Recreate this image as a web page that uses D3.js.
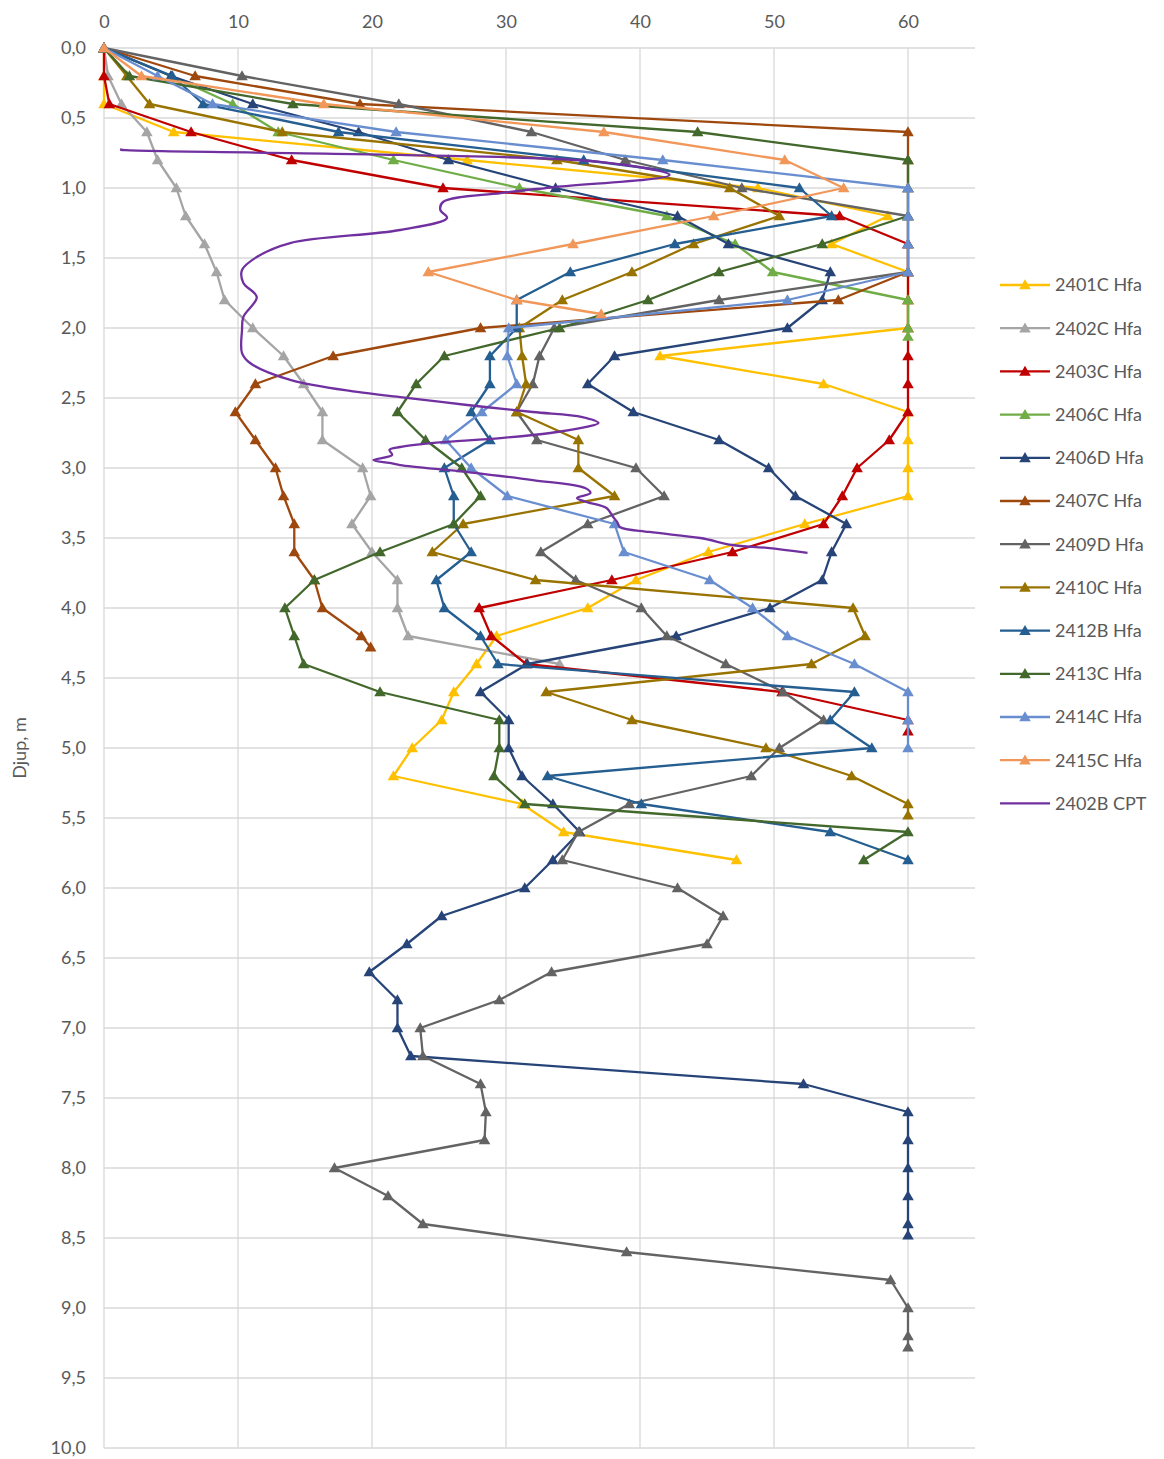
<!DOCTYPE html>
<html>
<head>
<meta charset="utf-8">
<script src="https://cdn.jsdelivr.net/npm/d3@7"></script>
<style>
  body { margin: 0; background: #fff; }
  text { font-family: Lato, "Open Sans", sans-serif; fill: #595959; }
</style>
</head>
<body>
<svg id="chart"></svg>
<script>
// axis ticks
const xTicks = [0, 10, 20, 30, 40, 50, 60];
const yTicks = d3.range(0, 10.001, 0.5);

// series data: [depth m, value]
const hfa2401C = [[0,0],[0.2,0],[0.4,0],[0.6,5.2],[0.8,27.1],[1.0,48.8],[1.2,58.5],[1.4,54.3],[1.6,60],[1.8,60],[2.0,60],[2.2,41.5],[2.4,53.7],[2.6,60],[2.8,60],[3.0,60],[3.2,60],[3.4,52.3],[3.6,45.1],[3.8,39.7],[4.0,36.1],[4.2,29.3],[4.4,27.8],[4.6,26.1],[4.8,25.2],[5.0,23.0],[5.2,21.6],[5.4,31.2],[5.6,34.3],[5.8,47.2]];
const hfa2402C = [[0,0],[0.2,0.3],[0.4,1.3],[0.6,3.2],[0.8,4.0],[1.0,5.4],[1.2,6.1],[1.4,7.5],[1.6,8.4],[1.8,9.0],[2.0,11.1],[2.2,13.4],[2.4,14.9],[2.6,16.3],[2.8,16.3],[3.0,19.3],[3.2,19.9],[3.4,18.5],[3.6,20.0],[3.8,21.9],[4.0,21.9],[4.2,22.7],[4.4,34.0]];
const hfa2403C = [[0,0],[0.2,0],[0.4,0.4],[0.6,6.5],[0.8,14.0],[1.0,25.3],[1.2,54.9],[1.4,60],[1.6,60],[1.8,60],[2.0,60],[2.2,60],[2.4,60],[2.6,60],[2.8,58.6],[3.0,56.2],[3.2,55.1],[3.4,53.7],[3.6,46.9],[3.8,37.9],[4.0,28.0],[4.2,28.9],[4.4,31.5],[4.6,50.6],[4.8,60],[4.88,60]];
const hfa2406C = [[0,0],[0.2,5.0],[0.4,9.6],[0.6,13.0],[0.8,21.6],[1.0,31.0],[1.2,42.0],[1.4,47.1],[1.6,49.9],[1.8,60],[2.0,60],[2.06,60]];
const hfa2406D = [[0,0],[0.2,5.0],[0.4,11.1],[0.6,19.0],[0.8,25.7],[1.0,33.7],[1.2,42.8],[1.4,46.6],[1.6,54.2],[1.8,53.6],[2.0,51.0],[2.2,38.1],[2.4,36.1],[2.6,39.5],[2.8,45.9],[3.0,49.6],[3.2,51.6],[3.4,55.4],[3.6,54.3],[3.8,53.6],[4.0,49.7],[4.2,42.7],[4.4,31.6],[4.6,28.1],[4.8,30.2],[5.0,30.2],[5.2,31.2],[5.4,33.5],[5.6,35.5],[5.8,33.5],[6.0,31.4],[6.2,25.2],[6.4,22.6],[6.6,19.8],[6.8,21.9],[7.0,21.9],[7.2,22.9],[7.4,52.2],[7.6,60],[7.8,60],[8.0,60],[8.2,60],[8.4,60],[8.48,60]];
const hfa2407C = [[0,0],[0.2,6.8],[0.4,19.1],[0.6,60],[0.8,60],[1.0,60],[1.2,60],[1.4,60],[1.6,60],[1.8,54.8],[2.0,28.1],[2.2,17.1],[2.4,11.3],[2.6,9.8],[2.8,11.3],[3.0,12.8],[3.2,13.4],[3.4,14.2],[3.6,14.2],[3.8,15.7],[4.0,16.3],[4.2,19.2],[4.28,19.9]];
const hfa2409D = [[0,0],[0.2,10.3],[0.4,22.0],[0.6,31.9],[0.8,38.9],[1.0,47.6],[1.2,60],[1.4,60],[1.6,60],[1.8,45.9],[2.0,33.6],[2.2,32.5],[2.4,32.0],[2.6,30.8],[2.8,32.3],[3.0,39.7],[3.2,41.8],[3.4,36.1],[3.6,32.6],[3.8,35.2],[4.0,40.1],[4.2,42.0],[4.4,46.4],[4.6,50.7],[4.8,53.7],[5.0,50.4],[5.2,48.3],[5.4,39.2],[5.6,35.4],[5.8,34.2],[6.0,42.8],[6.2,46.2],[6.4,45.0],[6.6,33.4],[6.8,29.5],[7.0,23.6],[7.2,23.8],[7.4,28.1],[7.6,28.5],[7.8,28.4],[8.0,17.2],[8.2,21.2],[8.4,23.8],[8.6,39.0],[8.8,58.7],[9.0,60],[9.2,60],[9.28,60]];
const hfa2410C = [[0,0],[0.2,1.7],[0.4,3.4],[0.6,13.3],[0.8,33.8],[1.0,46.7],[1.2,50.4],[1.4,44.0],[1.6,39.4],[1.8,34.2],[2.0,31.0],[2.2,31.2],[2.4,31.5],[2.6,30.8],[2.8,35.4],[3.0,35.4],[3.2,38.1],[3.4,26.8],[3.6,24.5],[3.8,32.2],[4.0,55.9],[4.2,56.8],[4.4,52.8],[4.6,33.0],[4.8,39.4],[5.0,49.4],[5.2,55.8],[5.4,60],[5.48,60]];
const hfa2412B = [[0,0],[0.2,5.1],[0.4,7.4],[0.6,17.5],[0.8,35.8],[1.0,51.9],[1.2,54.3],[1.4,42.6],[1.6,34.8],[1.8,30.8],[2.0,30.8],[2.2,28.8],[2.4,28.8],[2.6,27.4],[2.8,28.8],[3.0,25.4],[3.2,26.1],[3.4,26.1],[3.6,27.4],[3.8,24.8],[4.0,25.4],[4.2,28.1],[4.4,29.4],[4.6,56.0],[4.8,54.2],[5.0,57.3],[5.2,33.1],[5.4,40.1],[5.6,54.2],[5.8,60]];
const hfa2413C = [[0,0],[0.2,1.9],[0.4,14.1],[0.6,44.3],[0.8,60],[1.0,60],[1.2,60],[1.4,53.6],[1.6,45.9],[1.8,40.6],[2.0,34.0],[2.2,25.4],[2.4,23.3],[2.6,21.9],[2.8,24.0],[3.0,26.7],[3.2,28.1],[3.4,26.1],[3.6,20.6],[3.8,15.7],[4.0,13.5],[4.2,14.2],[4.4,14.9],[4.6,20.6],[4.8,29.5],[5.0,29.5],[5.2,29.1],[5.4,31.4],[5.6,60],[5.8,56.7]];
const hfa2414C = [[0,0],[0.2,4.0],[0.4,8.1],[0.6,21.8],[0.8,41.7],[1.0,60],[1.2,60],[1.4,60],[1.6,60],[1.8,51.0],[2.0,30.2],[2.2,30.1],[2.4,30.8],[2.6,28.2],[2.8,25.5],[3.0,27.4],[3.2,30.1],[3.4,38.1],[3.6,38.8],[3.8,45.2],[4.0,48.4],[4.2,51.0],[4.4,56.0],[4.6,60],[4.8,60],[5.0,60]];
const hfa2415C = [[0,0],[0.2,2.8],[0.4,16.4],[0.6,37.3],[0.8,50.8],[1.0,55.2],[1.2,45.5],[1.4,35.0],[1.6,24.2],[1.8,30.8],[1.9,37.1]];
const cpt2402B = [[0.725,1.2],[0.73,1.6],[0.764,22.1],[0.814,37.0],[0.907,42.2],[0.993,33.7],[1.036,29.6],[1.10,25.3],[1.157,25.1],[1.214,25.6],[1.30,22.1],[1.393,13.9],[1.493,11.4],[1.586,10.3],[1.679,10.4],[1.779,11.4],[1.921,10.4],[2.014,10.3],[2.179,10.3],[2.25,10.9],[2.371,13.9],[2.457,18.9],[2.493,22.1],[2.55,27.1],[2.60,32.0],[2.636,35.7],[2.679,36.9],[2.707,36.0],[2.75,33.3],[2.786,29.6],[2.821,24.6],[2.85,22.1],[2.871,21.3],[2.907,21.5],[2.943,20.1],[2.964,21.3],[2.979,22.1],[3.029,27.1],[3.086,32.0],[3.143,35.9],[3.179,36.3],[3.214,35.3],[3.243,36.0],[3.286,37.5],[3.35,38.0],[3.386,38.3],[3.421,38.5],[3.457,40.7],[3.50,44.5],[3.55,46.9],[3.571,49.5],[3.607,52.5]];

const seriesNames = ["2401C Hfa","2402C Hfa","2403C Hfa","2406C Hfa","2406D Hfa","2407C Hfa","2409D Hfa","2410C Hfa","2412B Hfa","2413C Hfa","2414C Hfa","2415C Hfa","2402B CPT"];
const seriesData = [hfa2401C,hfa2402C,hfa2403C,hfa2406C,hfa2406D,hfa2407C,hfa2409D,hfa2410C,hfa2412B,hfa2413C,hfa2414C,hfa2415C,cpt2402B];
const seriesColors = ["#FFC000","#A5A5A5","#C00000","#70AD47","#264478","#9E480E","#636363","#997300","#255E91","#43682B","#698ED0","#F1975A","#7030A0"];
const seriesMarkers = [true,true,true,true,true,true,true,true,true,true,true,true,false];

const width = 1164, height = 1459;
const margin = {top: 48, left: 104};
const plotW = 871, plotH = 1400;

const svg = d3.select("#chart").attr("width", width).attr("height", height);

const x = d3.scaleLinear().domain([0, 65]).range([margin.left, margin.left + plotW]);
const y = d3.scaleLinear().domain([0, 10]).range([margin.top, margin.top + plotH]);

const fmt = d => d3.format(".1f")(d).replace(".", ",");

// grid
svg.append("g").selectAll("line.h").data(yTicks).enter().append("line")
  .attr("x1", x(0)).attr("x2", x(65))
  .attr("y1", d => y(d)).attr("y2", d => y(d))
  .attr("stroke", "#D9D9D9").attr("stroke-width", 1.3);
svg.append("g").selectAll("line.v").data(xTicks).enter().append("line")
  .attr("x1", d => x(d)).attr("x2", d => x(d))
  .attr("y1", y(0)).attr("y2", y(10))
  .attr("stroke", "#D9D9D9").attr("stroke-width", 1.3);

// axes (text only, Excel style)
const xAxis = d3.axisTop(x).tickValues(xTicks).tickSize(0).tickPadding(20);
svg.append("g").attr("transform", `translate(0,${margin.top})`).call(xAxis)
  .call(g => g.select(".domain").remove())
  .selectAll("text").attr("font-size", "18px").style("font-family", "Lato, sans-serif").attr("fill", "#595959");

const yAxis = d3.axisLeft(y).tickValues(yTicks).tickFormat(fmt).tickSize(0).tickPadding(18);
svg.append("g").attr("transform", `translate(${margin.left},0)`).call(yAxis)
  .call(g => g.select(".domain").remove())
  .selectAll("text").attr("font-size", "18px").style("font-family", "Lato, sans-serif").attr("fill", "#595959");

svg.append("text")
  .attr("transform", `translate(26,${y(5)}) rotate(-90)`)
  .attr("text-anchor", "middle")
  .attr("font-size", "18px")
  .text("Djup, m");

// series
const line = d3.line().x(d => x(d[1])).y(d => y(d[0]));
const smooth = d3.line().x(d => x(d[1])).y(d => y(d[0])).curve(d3.curveCatmullRom.alpha(0.5));
const tri = d3.symbol().type(d3.symbolTriangle).size(58);

seriesData.forEach((data, i) => {
  const g = svg.append("g");
  g.append("path")
    .datum(data)
    .attr("d", seriesMarkers[i] ? line : smooth)
    .attr("fill", "none")
    .attr("stroke", seriesColors[i])
    .attr("stroke-width", 2.3)
    .attr("stroke-linejoin", "round");
  if (seriesMarkers[i]) {
    g.selectAll("path.m").data(data).enter().append("path")
      .attr("d", tri)
      .attr("transform", d => `translate(${x(d[1])},${y(d[0]) + 1})`)
      .attr("fill", seriesColors[i]);
  }
});

// legend
const legend = svg.append("g").attr("transform", "translate(1000,285)");
seriesNames.forEach((name, i) => {
  const row = legend.append("g").attr("transform", `translate(0,${i * 43.2})`);
  row.append("line").attr("x1", 0).attr("x2", 50).attr("y1", 0).attr("y2", 0)
    .attr("stroke", seriesColors[i]).attr("stroke-width", 2.3);
  if (seriesMarkers[i]) {
    row.append("path").attr("d", tri).attr("transform", "translate(25,1)").attr("fill", seriesColors[i]);
  }
  row.append("text").attr("x", 55).attr("y", 0).attr("dy", "0.35em")
    .attr("font-size", "18px").text(name);
});
</script>
</body>
</html>
